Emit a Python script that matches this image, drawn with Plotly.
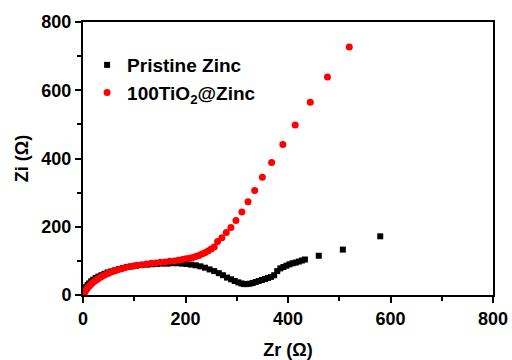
import plotly.graph_objects as go

# Pristine Zinc (black squares)
pristine_zr = [1, 2, 4, 6, 9, 12, 16, 20, 25, 30, 36, 42, 48, 55, 62, 70, 78, 86, 95, 104, 114, 124, 134, 144,
               154, 164, 174, 184, 193, 202, 211, 220, 229, 238, 247, 256, 265, 273, 281, 289, 296, 303, 309,
               314, 319, 325, 331, 337, 343, 349, 355, 361, 367, 373, 379, 385, 391, 397, 403, 409, 415, 421,
               427, 433, 460, 507, 580]
pristine_zi = [5, 12, 18, 23, 29, 34, 40, 45, 50, 54, 58, 62, 66, 69, 72, 76, 79, 82, 84, 86, 88, 89, 90, 91,
               92, 92, 93, 93, 92, 91, 89, 87, 84, 80, 75, 70, 64, 58, 51, 46, 41, 37, 34,
               32, 32, 33, 35, 38, 41, 44, 47, 50, 53, 58, 70, 78, 82, 86, 90, 93, 95, 98,
               101, 104, 115, 133, 172]

# 100TiO2@Zinc (red circles)
tio2_zr = [1, 2, 3, 5, 7, 9, 12, 15, 18, 22, 26, 30, 35, 40, 45, 50, 56, 62, 68, 75, 82, 90, 98, 106, 115,
           124, 133, 142, 151, 160, 169, 178, 186, 194, 201, 208, 214, 220, 226, 232, 238, 244, 250, 256,
           262.6, 271, 279.6, 288.7, 298.5, 310, 322, 335, 350, 368, 390, 414, 443.5, 477, 519.6]
tio2_zi = [2, 5, 8, 13, 17, 21, 26, 31, 35, 40, 44, 48, 53, 57, 61, 64, 68, 71, 74, 77, 80, 83, 85, 87, 89,
           91, 93, 94, 96, 97, 99, 100, 102, 104, 106, 108, 110, 113, 116, 120, 124, 129, 135, 141,
           157, 168, 183, 198, 218, 243, 273, 306, 345, 388, 441, 498, 565, 639, 727]

x_ticks = [0, 200, 400, 600, 800]
y_ticks = [0, 200, 400, 600, 800]

FONT = "Liberation Sans"

fig = go.Figure()
fig.add_trace(go.Scatter(x=pristine_zr, y=pristine_zi, mode="markers", name="<b>Pristine Zinc</b>",
                         marker=dict(symbol="square", size=6, color="black")))
fig.add_trace(go.Scatter(x=tio2_zr, y=tio2_zi, mode="markers", name="<b>100TiO<sub>2</sub>@Zinc</b>",
                         marker=dict(symbol="circle", size=7, color="red")))

axis_common = dict(
    showline=True, linecolor="black", linewidth=2, mirror=True,
    ticks="outside", ticklen=6, tickwidth=1.5, tickcolor="black",
    minor=dict(ticks="outside", ticklen=4, tickwidth=1.5, tickcolor="black", dtick=100, showgrid=False),
    showgrid=False, zeroline=False, automargin=False,
    tickfont=dict(family=FONT, size=18, color="black"),
)

fig.update_xaxes(range=[0, 800], tickvals=x_ticks, ticktext=[f"<b>{v}</b>" for v in x_ticks],
                 title=dict(text="<b>Zr (Ω)</b>", font=dict(family=FONT, size=18, color="black"), standoff=18),
                 **axis_common)
fig.update_yaxes(range=[0, 800], tickvals=y_ticks, ticktext=[f"<b>{v}</b>" for v in y_ticks],
                 title=dict(text="<b>Zi (Ω)</b>", font=dict(family=FONT, size=18, color="black"), standoff=8),
                 **axis_common)

fig.update_layout(
    width=512, height=360,
    margin=dict(l=83, r=19, t=22, b=65),
    paper_bgcolor="white", plot_bgcolor="white",
    showlegend=True,
    legend=dict(x=0.01, y=0.912, xanchor="left", yanchor="top", bgcolor="rgba(0,0,0,0)",
                font=dict(family=FONT, size=19, color="black"), itemsizing="trace", tracegroupgap=0),
)

fig.write_html("out.html")
